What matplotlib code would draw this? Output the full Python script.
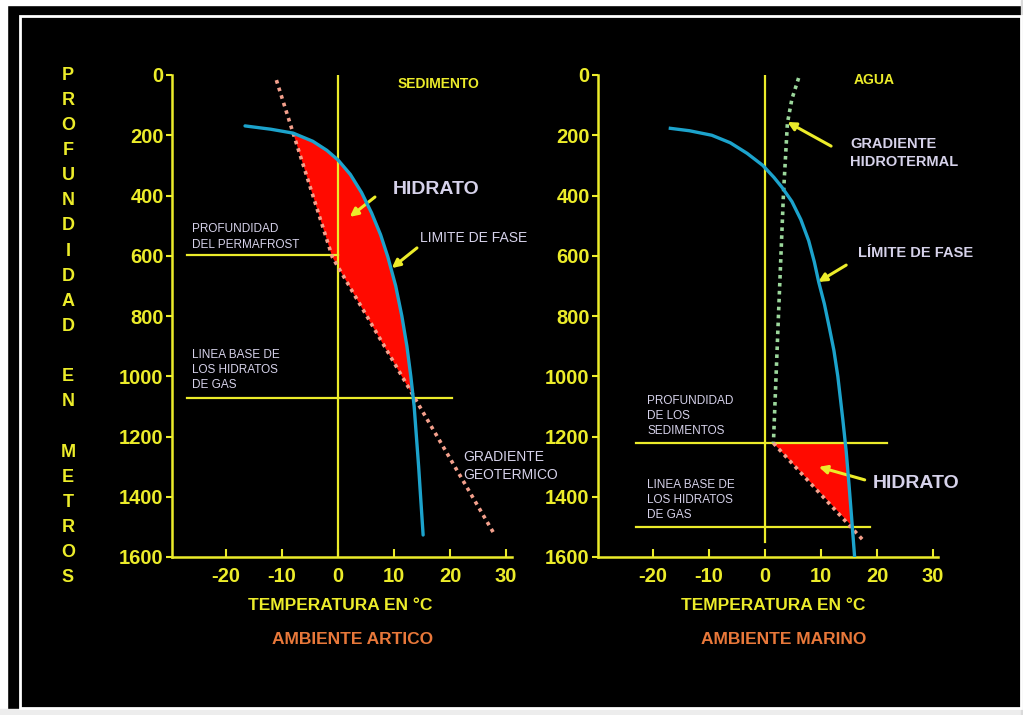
import numpy as np
import matplotlib.pyplot as plt
from matplotlib.patches import Rectangle

plt.rcParams['font.family'] = ['Liberation Sans', 'DejaVu Sans']
plt.rcParams['axes.unicode_minus'] = False

W, H = 1023, 715
AMARILLO = '#ECEC2A'
CIAN = '#1CA3CC'
SALMON = '#F4A08C'
VERDE = '#9CD89C'
ROJO = '#FF0A00'
GRIS = '#D6D2EA'
NARANJA = '#E8783A'

temp_ticks = [-20, -10, 0, 10, 20, 30]
prof_ticks = [0, 200, 400, 600, 800, 1000, 1200, 1400, 1600]

# ambiente artico
fase_art_T = [-16.6, -12.0, -8.0, -4.5, -2.0, 0.0, 2.2, 4.2, 6.0, 7.6, 8.9, 10.3, 11.4, 12.3,
              13.0, 13.6, 14.0, 14.4, 14.75, 15.2]
fase_art_prof = [169, 180, 193, 220, 250, 282, 330, 390, 458, 530, 604, 700, 800, 900,
                 1000, 1100, 1200, 1300, 1400, 1527]
geo_art_T = [-11.0, -1.0, 28.0]
geo_art_prof = [17, 605, 1527]
hid_art_T = [-8.0, -1.0, 13.45, 13.0, 12.3, 11.4, 10.3, 8.9, 7.6, 6.0, 4.2, 2.2, 0.0, -2.0, -4.5]
hid_art_prof = [193, 605, 1066, 1000, 900, 800, 700, 604, 530, 458, 390, 330, 282, 250, 220]
permafrost_prof = 598
permafrost_T = [-27, 0]
base_art_prof = 1072
base_art_T = [-27, 20.4]

# ambiente marino
fase_mar_T = [-16.9, -13.5, -9.5, -6.2, -3.2, -0.4, 1.6, 3.0, 4.8, 6.4, 7.8, 8.8, 9.6, 10.6,
              11.5, 12.3, 13.0, 13.5, 13.9, 14.5, 15.0, 15.5, 16.0]
fase_mar_prof = [177, 185, 200, 225, 260, 300, 340, 372, 420, 480, 550, 620, 688, 760,
                 840, 914, 1000, 1080, 1145, 1250, 1360, 1478, 1600]
hidroterm_T = [6.0, 4.8, 4.0, 3.3, 2.4, 1.5]
hidroterm_prof = [10, 80, 160, 393, 800, 1222]
geo_mar_T = [1.5, 17.8]
geo_mar_prof = [1222, 1550]
hid_mar_T = [1.5, 14.4, 15.4]
hid_mar_prof = [1222, 1222, 1495]
sedimento_prof = 1222
sedimento_T = [-23, 21.8]
base_mar_prof = 1500
base_mar_T = [-23, 18.7]

ylabel = 'PROFUNDIDAD EN METROS'


def fx(px):
    return px / W


def fy(py):
    return 1 - py / H


def setup(ax, xlim):
    ax.set_facecolor('none')
    ax.set_xlim(xlim)
    ax.set_ylim(1600, 0)
    ax.spines['top'].set_visible(False)
    ax.spines['right'].set_visible(False)
    for s in ['left', 'bottom']:
        ax.spines[s].set_color(AMARILLO)
        ax.spines[s].set_linewidth(1.8)
    ax.set_xticks(temp_ticks)
    ax.set_yticks(prof_ticks)
    ax.tick_params(axis='x', direction='in', length=6, width=1.5, colors=AMARILLO,
                   labelsize=14.5, pad=7)
    ax.tick_params(axis='y', direction='out', length=4, width=1.5, colors=AMARILLO,
                   labelsize=14.5, pad=2)
    for lbl in ax.get_xticklabels() + ax.get_yticklabels():
        lbl.set_fontweight('bold')


def flecha(ax, xy, xytext):
    ax.annotate('', xy=xy, xytext=xytext, annotation_clip=False,
                arrowprops=dict(arrowstyle='-|>', color=AMARILLO, lw=2.2,
                                mutation_scale=12, shrinkA=0, shrinkB=0))


fig = plt.figure(figsize=(W / 100, H / 100), dpi=100, facecolor='black')

# marco
fig.patches.append(Rectangle((0, fy(5)), 1, 5 / H, transform=fig.transFigure, color='white', zorder=0))
fig.patches.append(Rectangle((0, 0), 7 / W, 1, transform=fig.transFigure, color='white', zorder=0))
fig.patches.append(Rectangle((0, 0), 1, 6 / H, transform=fig.transFigure, color='#EDEDED', zorder=0))
fig.patches.append(Rectangle((fx(1021), 0), 2 / W, 1, transform=fig.transFigure, color='#DADADA', zorder=0))
fig.patches.append(Rectangle((fx(20), fy(708)), (1021 - 20) / W, (708 - 16) / H,
                             transform=fig.transFigure, fill=False, ec='white', lw=2, zorder=0))

# ---- ambiente artico ----
ax1 = fig.add_axes([fx(172), fy(557), (512 - 172) / W, (557 - 75) / H])
setup(ax1, (-29.64, 31.07))
ax1.fill(hid_art_T, hid_art_prof, color=ROJO, lw=0, zorder=1)
ax1.plot([0, 0], [0, 1600], color=AMARILLO, lw=1.6, zorder=2)
ax1.plot(permafrost_T, [permafrost_prof] * 2, color=AMARILLO, lw=1.6, zorder=2)
ax1.plot(base_art_T, [base_art_prof] * 2, color=AMARILLO, lw=1.6, zorder=2)
ax1.plot(geo_art_T, geo_art_prof, color=SALMON, lw=2.6, ls=(0, (1, 1.2)), zorder=3)
ax1.plot(fase_art_T, fase_art_prof, color=CIAN, lw=2.4, zorder=4, solid_capstyle='round',
         solid_joinstyle='round')
flecha(ax1, (2.1, 471), (6.6, 405))
flecha(ax1, (9.6, 641), (14.1, 574))

# ---- ambiente marino ----
ax2 = fig.add_axes([fx(598), fy(557), (938 - 598) / W, (557 - 75) / H])
setup(ax2, (-29.82, 30.89))
ax2.fill(hid_mar_T, hid_mar_prof, color=ROJO, lw=0, zorder=1)
ax2.plot([0, 0], [0, 1550], color=AMARILLO, lw=1.6, zorder=2)
ax2.plot(sedimento_T, [sedimento_prof] * 2, color=AMARILLO, lw=1.6, zorder=2)
ax2.plot(base_mar_T, [base_mar_prof] * 2, color=AMARILLO, lw=1.6, zorder=2)
ax2.plot(hidroterm_T, hidroterm_prof, color=VERDE, lw=2.6, ls=(0, (1, 1.2)), zorder=3)
ax2.plot(geo_mar_T, geo_mar_prof, color=SALMON, lw=2.6, ls=(0, (1, 1.2)), zorder=3)
ax2.plot(fase_mar_T, fase_mar_prof, color=CIAN, lw=2.4, zorder=4, solid_joinstyle='round')
flecha(ax2, (4.0, 156), (11.8, 236))
flecha(ax2, (9.5, 687), (14.5, 631))
flecha(ax2, (9.6, 1301), (17.8, 1344))

# eje y vertical letra a letra
for i, ch in enumerate(ylabel):
    fig.text(fx(68), fy(75 + i * 25.15), ch, color=AMARILLO, fontsize=13,
             fontweight='bold', ha='center', va='center')

# textos
fig.text(fx(439), fy(84), 'SEDIMENTO', color=AMARILLO, fontsize=10, fontweight='bold', ha='center', va='center')
fig.text(fx(874), fy(80), 'AGUA', color=AMARILLO, fontsize=10, fontweight='bold', ha='center', va='center')

fig.text(fx(393), fy(189), 'HIDRATO', color=GRIS, fontsize=14, fontweight='bold', va='center')
fig.text(fx(420), fy(238), 'LIMITE DE FASE', color=GRIS, fontsize=10, va='center')
fig.text(fx(192), fy(237), 'PROFUNDIDAD\nDEL PERMAFROST', color=GRIS, fontsize=8.5,
         va='center', linespacing=1.4)
fig.text(fx(192), fy(370), 'LINEA BASE DE\nLOS HIDRATOS\nDE GAS', color=GRIS, fontsize=8.5,
         va='center', linespacing=1.35)
fig.text(fx(463), fy(466), 'GRADIENTE\nGEOTERMICO', color=GRIS, fontsize=10,
         va='center', linespacing=1.3)

fig.text(fx(850), fy(153), 'GRADIENTE\nHIDROTERMAL', color=GRIS, fontsize=10.5, fontweight='bold',
         va='center', linespacing=1.35)
fig.text(fx(858), fy(253), 'LÍMITE DE FASE', color=GRIS, fontsize=10.5, fontweight='bold', va='center')
fig.text(fx(647), fy(416), 'PROFUNDIDAD\nDE LOS\nSEDIMENTOS', color=GRIS, fontsize=8.5,
         va='center', linespacing=1.35)
fig.text(fx(873), fy(484), 'HIDRATO', color=GRIS, fontsize=14, fontweight='bold', va='center')
fig.text(fx(647), fy(500), 'LINEA BASE DE\nLOS HIDRATOS\nDE GAS', color=GRIS, fontsize=8.5,
         va='center', linespacing=1.35)

fig.text(fx(340), fy(606), 'TEMPERATURA EN °C', color=AMARILLO, fontsize=12.5, fontweight='bold',
         ha='center', va='center')
fig.text(fx(773), fy(606), 'TEMPERATURA EN °C', color=AMARILLO, fontsize=12.5, fontweight='bold',
         ha='center', va='center')
fig.text(fx(353), fy(639), 'AMBIENTE ARTICO', color=NARANJA, fontsize=12.5, fontweight='bold',
         ha='center', va='center')
fig.text(fx(784), fy(639), 'AMBIENTE MARINO', color=NARANJA, fontsize=12.5, fontweight='bold',
         ha='center', va='center')

fig.savefig('out.png', dpi=100, facecolor='black')
